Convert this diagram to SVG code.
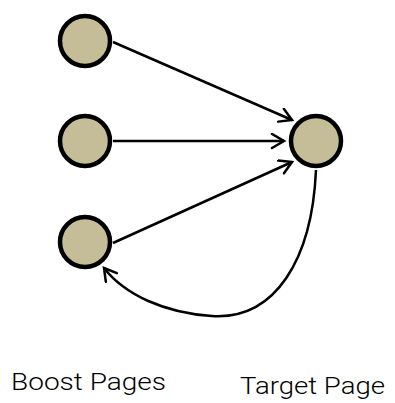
<svg xmlns="http://www.w3.org/2000/svg" width="395" height="403" viewBox="0 0 395 403">
<style>
.node{fill:#c5bd98;stroke:#000;stroke-width:4.5}
.edge{fill:none;stroke:#000;stroke-width:2.5}
.lbl{font-family:Roboto,"Liberation Sans",Arial,sans-serif;font-weight:300;font-size:24px;fill:#000}
</style>
<defs>
<marker id="arr" markerWidth="20" markerHeight="20" refX="14" refY="8" orient="auto" markerUnits="userSpaceOnUse">
<path d="M2,1 L14,8 L2,15" fill="none" stroke="#000" stroke-width="2.5" stroke-linecap="round"/>
</marker>
</defs>
<rect width="395" height="403" fill="#fff"/>
<g id="connectors">
<path class="edge" d="M113,42 L292,120" marker-end="url(#arr)"/>
<path class="edge" d="M113,141 L284,141" marker-end="url(#arr)"/>
<path class="edge" d="M113,243 L292,162" marker-end="url(#arr)"/>
<path class="edge" d="M316,170 C312,260 275,320 212,316 C165,313 125,295 104,268" marker-end="url(#arr)"/>
</g>
<g id="boost1"><circle class="node" cx="85" cy="41" r="25"/></g>
<g id="boost2"><circle class="node" cx="85" cy="141" r="25"/></g>
<g id="boost3"><circle class="node" cx="85" cy="242" r="25"/></g>
<g id="target"><circle class="node" cx="316" cy="141" r="25"/></g>
<g id="labels">
<text class="lbl" x="11" y="390" textLength="155" lengthAdjust="spacingAndGlyphs">Boost Pages</text>
<text class="lbl" x="240" y="394" textLength="145" lengthAdjust="spacingAndGlyphs">Target Page</text>
</g>
</svg>
